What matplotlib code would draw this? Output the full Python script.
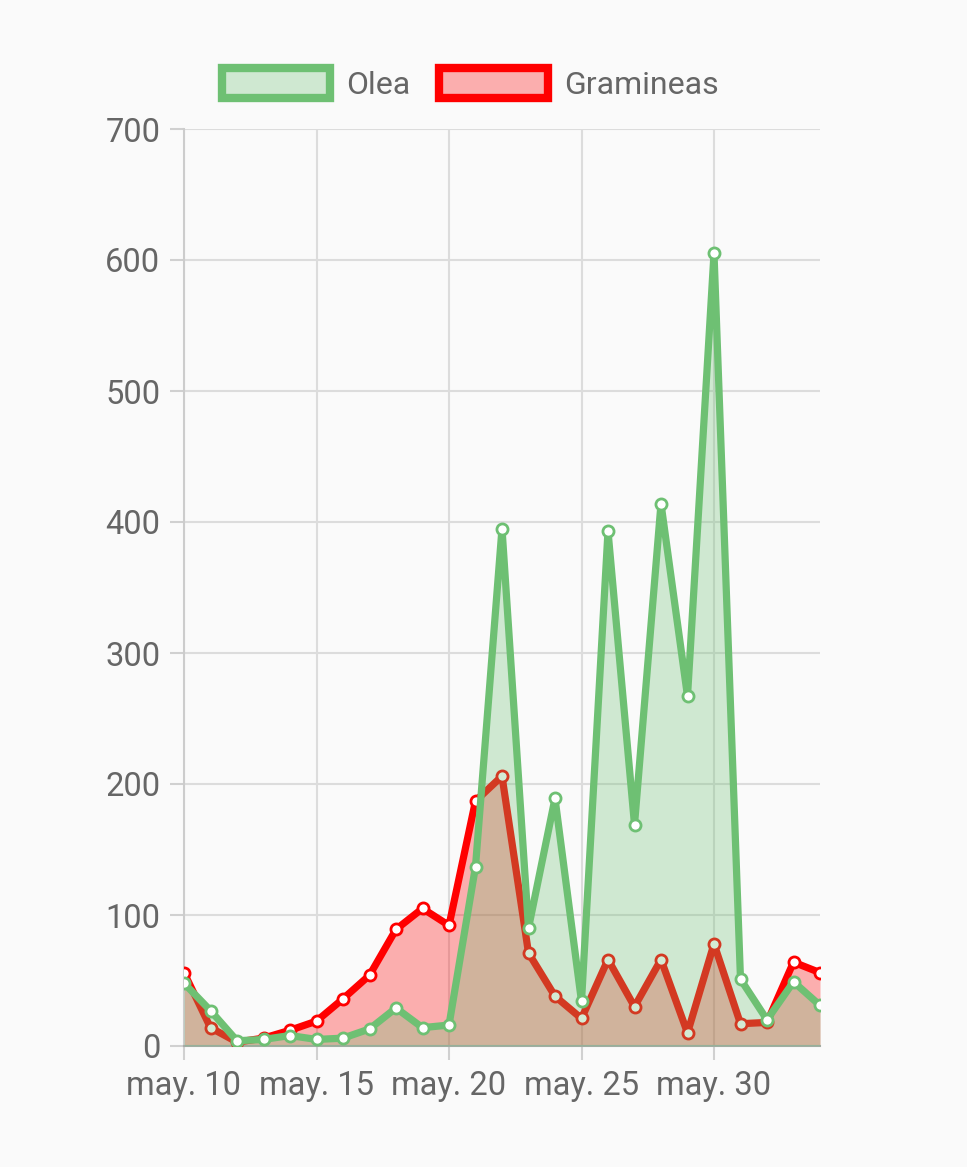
import numpy as np
import matplotlib.pyplot as plt
from matplotlib.patches import Patch

# days of May (31 -> 34 run into June, labels only every 5 days)
days = np.arange(10, 35)
olea = [48, 27, 4, 5, 8, 5, 6, 13, 29, 14, 16, 137, 395, 90, 189, 34,
        393, 169, 414, 267, 605, 51, 20, 49, 31]
gramineas = [56, 14, 3, 6, 12, 19, 36, 54, 89, 105, 92, 187, 206, 71, 38, 21,
             66, 30, 66, 10, 78, 17, 18, 64, 56]
tick_days = [10, 15, 20, 25, 30]
tick_labels = ["may. 10", "may. 15", "may. 20", "may. 25", "may. 30"]

green = (110/255, 192/255, 115/255)
red = (1.0, 0.0, 0.0)
bg = "#fafafa"

plt.rcParams['font.family'] = ['Roboto', 'DejaVu Sans']

fig = plt.figure(figsize=(9.67, 11.67), dpi=100, facecolor=bg)
ax = fig.add_axes([184/967, 1 - 1046/1167, (820-184)/967, (1046-129)/1167])
ax.set_facecolor(bg)

# chart.js draws the last dataset first -> gramineas under olea
ax.fill_between(days, gramineas, 0, color=red, alpha=0.3, lw=0, zorder=2)
ax.plot(days, gramineas, color=red, lw=5.2, zorder=3, solid_joinstyle='round')
ax.plot(days, gramineas, ls='none', marker='o', ms=8, mfc='white',
        mec=red, mew=2, zorder=3)

ax.fill_between(days, olea, 0, color=green, alpha=0.3, lw=0, zorder=4)
ax.plot(days, olea, color=green, lw=5.2, zorder=5, solid_joinstyle='round')
ax.plot(days, olea, ls='none', marker='o', ms=8, mfc='white',
        mec=green, mew=2, zorder=5)

ax.set_xlim(10, 34)
ax.set_ylim(0, 700)
ax.set_yticks(range(0, 701, 100))
ax.set_xticks(tick_days)
ax.set_xticklabels(tick_labels)

ax.grid(True, color='#dcdcdc', lw=1.5, zorder=0)
ax.tick_params(colors='#d0d0d0', labelcolor='#666666', labelsize=23.5,
               length=10, width=1.5, pad=7)
for side in ['top', 'right']:
    ax.spines[side].set_visible(False)
ax.spines['left'].set_color('#cccccc')
ax.spines['left'].set_linewidth(1.5)
ax.spines['bottom'].set_color('#aaaaaa')
ax.spines['bottom'].set_linewidth(1.5)

handles = [
    Patch(facecolor=(*green, 0.3), edgecolor=green, lw=6, label='Olea'),
    Patch(facecolor=(*red, 0.3), edgecolor=red, lw=6, label='Gramineas'),
]
leg = fig.legend(handles=handles, loc='center',
                 bbox_to_anchor=(470/967, 1 - 84/1167),
                 ncol=2, frameon=False, fontsize=23, handlelength=3.4,
                 handleheight=1.05, columnspacing=0.9, handletextpad=0.5)
for t in leg.get_texts():
    t.set_color('#666666')

fig.savefig('out.png', dpi=100, facecolor=bg)
